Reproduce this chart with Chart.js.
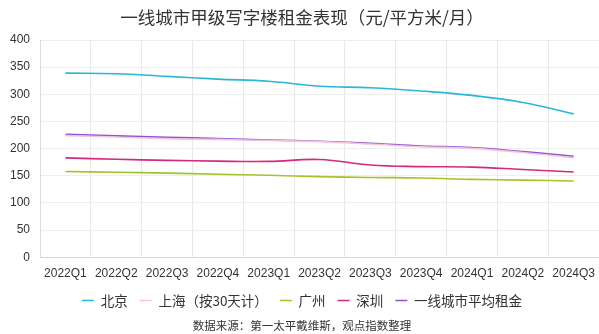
<!DOCTYPE html>
<html>
<head>
<meta charset="utf-8">
<script src="https://cdn.jsdelivr.net/npm/chart.js@4"></script>
<style>
  html, body { margin: 0; padding: 0; background: #fff; overflow: hidden; }
  #wrap { width: 604px; height: 334px; position: relative; }
</style>
</head>
<body>
<div id="wrap"><canvas id="c"></canvas></div>
<script>
// Quarterly grade-A office rents in first-tier cities (yuan / sq m / month)
const quarters = ['2022Q1','2022Q2','2022Q3','2022Q4','2023Q1','2023Q2','2023Q3','2023Q4','2024Q1','2024Q2','2024Q3'];
const beijing   = [339, 338, 333, 328, 324, 315, 312, 306, 298, 285, 264];
const shanghai  = [224, 221.5, 218.5, 217, 215, 213, 208.5, 203.5, 200.5, 193, 183];
const guangzhou = [158, 156.5, 155, 153, 151, 148.5, 147, 146, 143.5, 142, 140.5];
const shenzhen  = [183, 180.5, 178.5, 177, 176.5, 180, 170, 167, 166, 161.5, 157];
const average   = [226.5, 223.5, 221, 218.5, 216, 213.5, 210, 205, 202, 194.5, 186];
const yTicks = [0, 50, 100, 150, 200, 250, 300, 350, 400];

const series = [
  { label: '北京', data: beijing, color: '#2bb6d9' },
  { label: '上海（按30天计）', data: shanghai, color: '#f7c1dd' },
  { label: '广州', data: guangzhou, color: '#a3c42c' },
  { label: '深圳', data: shenzhen, color: '#d42a7e' },
  { label: '一线城市平均租金', data: average, color: '#8b55cc' }
];

const txt = '#333333';
const cjk = '"Noto Sans CJK SC", sans-serif';
const latin = '"Liberation Sans", Arial, sans-serif';

new Chart(document.getElementById('c'), {
  type: 'line',
  data: {
    labels: quarters,
    datasets: series.map(s => ({
      label: s.label,
      data: s.data,
      borderColor: s.color,
      backgroundColor: s.color,
      borderWidth: 1.6,
      pointRadius: 0,
      pointHoverRadius: 0,
      tension: 0.4,
      fill: false
    }))
  },
  options: {
    responsive: true,
    maintainAspectRatio: false,
    animation: false,
    layout: { padding: 0 },
    plugins: {
      title: {
        display: true,
        text: '一线城市甲级写字楼租金表现（元/平方米/月）',
        color: txt,
        font: { family: cjk, size: 17.5, weight: 'normal' },
        padding: { top: 7, bottom: 12 }
      },
      subtitle: {
        display: true,
        position: 'bottom',
        text: '数据来源：第一太平戴维斯，观点指数整理',
        color: txt,
        font: { family: cjk, size: 11.5 },
        padding: { top: 2, bottom: 1 }
      },
      legend: {
        position: 'bottom',
        labels: {
          usePointStyle: true,
          pointStyle: 'line',
          pointStyleWidth: 12,
          boxWidth: 12,
          boxHeight: 2,
          color: txt,
          font: { family: cjk, size: 13.5 },
          padding: 12
        }
      },
      tooltip: { enabled: false }
    },
    scales: {
      x: {
        offset: true,
        grid: { offset: true, color: '#e8e8e8', drawTicks: false },
        border: { color: '#d4d4d4' },
        ticks: {
          color: txt,
          font: { family: latin, size: 12 },
          maxRotation: 0,
          autoSkip: false,
          padding: 9
        },
        // tighten the band between the tick labels and the legend
        afterFit: scale => { scale.height -= 8; }
      },
      y: {
        min: 0,
        max: 400,
        afterBuildTicks: axis => { axis.ticks = yTicks.map(v => ({ value: v })); },
        grid: { color: '#eeeeee', drawTicks: false },
        border: { color: '#dddddd' },
        ticks: {
          color: txt,
          font: { family: latin, size: 12 },
          padding: 10
        }
      }
    }
  }
});
</script>
</body>
</html>
